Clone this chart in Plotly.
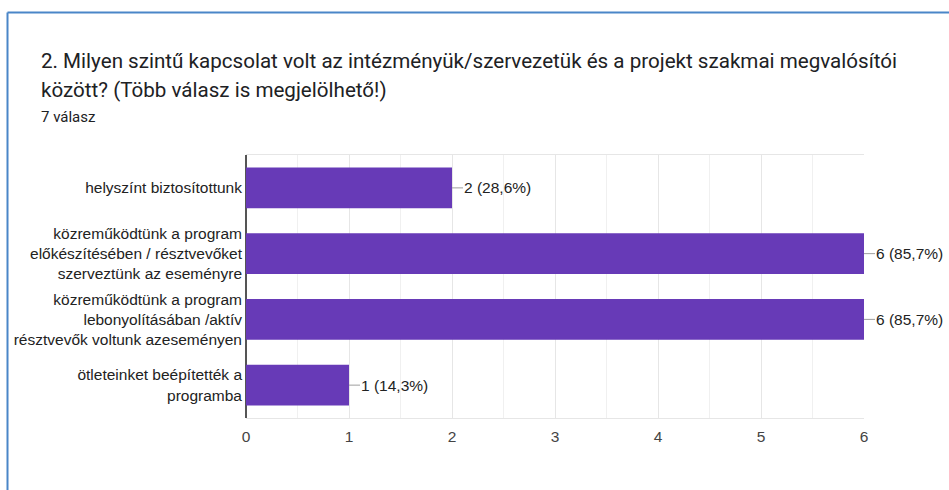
import plotly.graph_objects as go

categories = [
    "helyszínt biztosítottunk",
    "közreműködtünk a program<br>előkészítésében / résztvevőket<br>szerveztünk az eseményre",
    "közreműködtünk a program<br>lebonyolításában /aktív<br>résztvevők voltunk azeseményen",
    "ötleteinket beépítették a<br>programba",
]
values = [2, 6, 6, 1]
total_responses = 7
tick_values = [0, 1, 2, 3, 4, 5, 6]

title_line1 = "2. Milyen szintű kapcsolat volt az intézményük/szervezetük és a projekt szakmai megvalósítói"
title_line2 = "között? (Több válasz is megjelölhető!)"
subtitle = f"{total_responses} válasz"

W, H = 949, 490
ML, MR, MT, MB = 246, 85, 155, 72
PW, PH = W - ML - MR, H - MT - MB


def px_x(px):
    return (px - ML) / PW


def px_y(py):
    return (H - MB - py) / PH


labels = [f"{v} ({v / total_responses * 100:.1f}%)".replace(".", ",") for v in values]
ids = list(range(len(categories)))

fig = go.Figure()
fig.add_trace(go.Bar(
    y=ids, x=values, orientation="h",
    marker=dict(color="#673ab7", line=dict(width=0)),
    width=0.62, hoverinfo="skip",
))

shapes = []
annotations = []
for i, (v, lab) in enumerate(zip(values, labels)):
    annotations.append(dict(x=v, y=i, xref="x", yref="y", text=lab, showarrow=True,
                            arrowhead=0, arrowwidth=1, arrowcolor="#9e9e9e", standoff=0,
                            ax=11, ay=0, xanchor="left", yanchor="middle", borderpad=0,
                            font=dict(family="Liberation Sans, Arial", size=15.5, color="#222222")))

# blue frame of the card
shapes.append(dict(type="line", xref="paper", yref="paper", x0=px_x(7.5), x1=px_x(960),
                   y0=px_y(12.5), y1=px_y(12.5), line=dict(color="#4a86c8", width=2)))
shapes.append(dict(type="line", xref="paper", yref="paper", x0=px_x(7.5), x1=px_x(7.5),
                   y0=px_y(12.5), y1=px_y(500), line=dict(color="#4a86c8", width=2)))

annotations += [
    dict(x=px_x(39), y=px_y(61), xref="paper", yref="paper", text=title_line1, showarrow=False,
         xanchor="left", yanchor="middle", font=dict(family="Roboto", size=20.6, color="#202124")),
    dict(x=px_x(39), y=px_y(90), xref="paper", yref="paper", text=title_line2, showarrow=False,
         xanchor="left", yanchor="middle", font=dict(family="Roboto", size=20.6, color="#202124")),
    dict(x=px_x(39), y=px_y(117), xref="paper", yref="paper", text=subtitle, showarrow=False,
         xanchor="left", yanchor="middle", font=dict(family="Roboto", size=15, color="#202124")),
]

fig.update_layout(
    width=W, height=H,
    margin=dict(l=ML, r=MR, t=MT, b=MB, pad=0),
    paper_bgcolor="white", plot_bgcolor="white",
    showlegend=False,
    shapes=shapes, annotations=annotations,
    xaxis=dict(range=[0, 6], tickvals=tick_values, showgrid=True, gridcolor="#e6e6e6",
               minor=dict(dtick=0.5, showgrid=True, gridcolor="#f0f0f0"),
               zeroline=True, zerolinecolor="#555555", zerolinewidth=2,
               showline=True, linecolor="#e6e6e6", mirror=True, ticks="",
               ticklabelstandoff=4,
               tickfont=dict(family="Liberation Sans, Arial", size=15.5, color="#444444"),
               fixedrange=True),
    yaxis=dict(tickvals=ids, ticktext=categories, autorange=False, range=[3.5, -0.5],
               showgrid=False, zeroline=False, ticks="", ticklabelstandoff=3,
               tickfont=dict(family="Liberation Sans, Arial", size=15.5, color="#222222"),
               fixedrange=True),
)

fig.write_html("out.html", config={"displayModeBar": False},
               post_script="document.body.style.margin='0';")
